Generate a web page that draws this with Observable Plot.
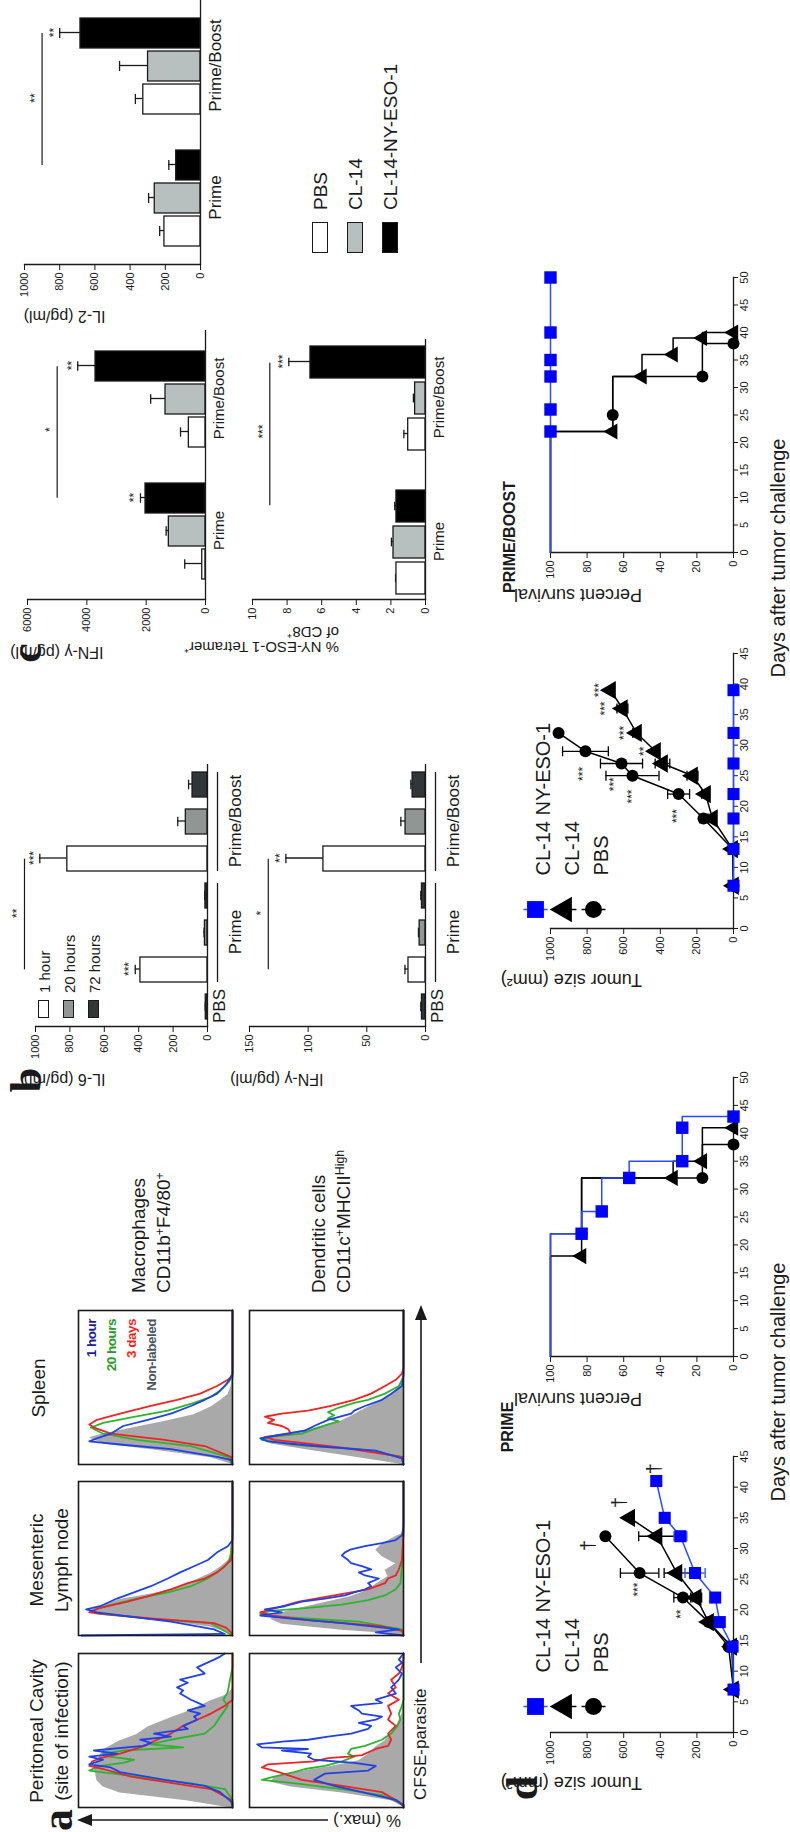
<!DOCTYPE html>
<html>
<head>
<meta charset="utf-8">
<script src="https://cdn.jsdelivr.net/npm/d3@7"></script>
<script src="https://cdn.jsdelivr.net/npm/@observablehq/plot@0.6"></script>
<style>
  html, body { margin: 0; padding: 0; background: #fff; }
  body { width: 790px; height: 1832px; overflow: hidden; position: relative; }
  #stage { position: absolute; left: 0; top: 0; width: 1832px; height: 790px;
           transform-origin: 0 0; transform: translate(0px, 1832px) rotate(-90deg);
           font-family: "Liberation Sans", Arial, Helvetica, sans-serif; color: #1a1a1a; }
  #stage svg { position: absolute; overflow: visible; max-width: none; }
  .lbl { position: absolute; white-space: nowrap; line-height: 1; transform-origin: 0 0; }
  .lbl.multi { line-height: 1.3; text-align: center; }
  .lbl.multi.left { text-align: left; }
  .lbl sup { font-size: 65%; vertical-align: 0.55em; line-height: 0; }
  .sw { position: absolute; box-sizing: border-box; border: 1.5px solid #1a1a1a; }
</style>
</head>
<body>
<div id="stage"></div>
<script>
// ===================== DATA =====================
// Panel a — CFSE histograms: [CFSE (% of axis), % of max]
const macPeritonealGray  = [[0,0],[1,5],[5,30],[10,73],[14,84],[18,88],[23,89],[27,90],[31,88],[38,84],[44,73],[48,62],[53,55],[59,40],[63,29],[70,14],[74,3],[78,0],[100,0]];
const macPeritonealGreen = [[0,0],[5,0],[12,5],[16,29],[20,62],[24,93],[27,86],[29,71],[31,64],[33,80],[35,84],[37,71],[39,32],[41,53],[44,40],[48,18],[53,12],[59,8],[66,3],[70,6],[75,3],[81,2],[91,0],[100,0]];
const macPeritonealRed   = [[0,0],[5,1],[12,14],[16,40],[20,66],[25,84],[27,93],[30,91],[32,86],[35,73],[40,57],[44,49],[48,40],[53,32],[57,23],[61,14],[66,5],[70,0],[100,0]];
const macPeritonealBlue  = [[0,0],[3,0],[10,8],[14,18],[18,44],[23,73],[26,79],[28,93],[31,84],[33,93],[35,75],[37,90],[40,58],[42,53],[44,60],[46,40],[48,51],[51,29],[53,32],[57,23],[59,25],[61,21],[63,29],[66,18],[70,27],[74,34],[76,32],[78,36],[81,29],[83,34],[87,18],[91,23],[96,12],[98,8],[100,5]];

const macMesentericGray  = [[0,0],[2,1],[6,14],[11,51],[14,88],[16,93],[19,88],[24,73],[28,51],[32,34],[37,23],[41,14],[45,8],[49,3],[54,0],[100,0]];
const macMesentericGreen = [[0,0],[8,14],[11,55],[14,86],[16,92],[19,82],[24,62],[28,42],[32,27],[37,16],[41,10],[45,5],[49,2],[54,1],[67,0],[100,0]];
const macMesentericRed   = [[0,0],[2,1],[5,4],[8,12],[11,51],[14,84],[15,93],[18,86],[22,68],[26,53],[30,40],[34,29],[37,18],[41,10],[45,5],[49,1],[54,0],[100,0]];
const macMesentericBlue  = [[0,98],[1,5],[4,12],[9,40],[13,73],[15,88],[17,95],[19,86],[24,75],[28,64],[32,53],[37,42],[41,34],[45,25],[49,16],[54,10],[58,3],[62,0],[100,0]];

const macSpleenGray  = [[0,0],[1,1],[5,14],[10,51],[14,84],[18,93],[20,86],[25,62],[29,42],[33,25],[38,14],[42,8],[46,3],[51,1],[57,0],[100,0]];
const macSpleenGreen = [[0,0],[5,3],[12,27],[16,62],[20,84],[24,92],[27,84],[31,64],[35,42],[40,25],[44,14],[48,8],[53,3],[57,0],[100,0]];
const macSpleenRed   = [[0,0],[5,1],[12,18],[16,44],[20,79],[24,90],[26,93],[29,88],[33,73],[38,53],[42,36],[46,21],[51,10],[55,3],[58,0],[100,0]];
const macSpleenBlue  = [[0,0],[3,1],[5,10],[10,40],[13,73],[15,93],[17,88],[20,79],[25,71],[29,55],[33,40],[38,27],[42,18],[46,10],[51,5],[55,2],[59,0],[100,0]];

const dcPeritonealGray  = [[0,0],[1,0],[5,8],[10,40],[14,73],[17,86],[20,84],[23,73],[27,49],[31,29],[35,23],[40,18],[44,12],[48,8],[53,5],[57,3],[61,1],[70,0],[100,0]];
const dcPeritonealGreen = [[0,0],[2,0],[8,14],[12,40],[16,73],[18,92],[20,84],[23,71],[25,64],[27,51],[30,40],[33,32],[35,36],[38,34],[40,25],[44,14],[48,8],[53,4],[57,2],[61,3],[66,1],[70,0],[100,0]];
const dcPeritonealRed   = [[0,0],[2,0],[10,14],[14,40],[18,66],[23,81],[26,92],[28,88],[30,58],[32,49],[33,36],[34,27],[38,18],[40,10],[44,8],[48,10],[53,5],[57,10],[61,8],[66,10],[70,3],[74,10],[78,5],[83,8],[87,3],[91,1],[96,0],[100,0]];
const dcPeritonealBlue  = [[0,0],[1,0],[5,5],[10,27],[14,45],[18,58],[22,51],[24,23],[27,18],[29,32],[31,58],[33,62],[35,60],[37,79],[38,62],[39,92],[41,95],[43,77],[44,62],[46,49],[48,34],[51,23],[53,21],[55,29],[57,18],[59,14],[61,27],[63,29],[66,34],[68,14],[70,18],[74,5],[78,8],[83,3],[87,1],[91,5],[94,1],[96,3],[100,0]];

const dcMesentericGray  = [[0,0],[2,10],[4,40],[8,79],[11,86],[14,84],[17,73],[22,51],[26,34],[30,23],[34,18],[39,10],[43,12],[47,5],[52,14],[56,18],[60,14],[65,5],[67,0],[100,0]];
const dcMesentericGreen = [[0,0],[4,1],[9,29],[12,79],[14,93],[16,86],[18,62],[20,40],[23,23],[26,12],[30,5],[34,2],[45,1],[67,0],[100,0]];
const dcMesentericRed   = [[0,0],[3,1],[6,14],[10,62],[13,86],[15,93],[17,86],[22,68],[26,45],[30,23],[34,12],[37,10],[39,5],[43,3],[49,1],[67,0],[100,0]];
const dcMesentericBlue  = [[0,0],[2,18],[4,3],[8,40],[11,73],[13,93],[15,79],[17,90],[19,77],[22,66],[24,51],[26,38],[28,32],[30,25],[32,21],[34,23],[37,16],[39,25],[41,29],[43,21],[45,27],[47,34],[49,36],[52,40],[54,38],[56,34],[58,25],[60,14],[62,5],[65,1],[71,0],[100,0]];

const dcSpleenGray  = [[0,0],[1,3],[5,29],[10,62],[14,86],[18,93],[20,79],[25,55],[29,40],[33,32],[38,23],[42,14],[46,8],[51,3],[55,1],[59,0],[100,0]];
const dcSpleenGreen = [[0,0],[5,1],[10,29],[13,73],[16,92],[18,86],[20,66],[23,58],[26,49],[28,42],[30,49],[32,45],[34,49],[37,42],[40,32],[42,23],[46,12],[51,3],[57,0],[100,0]];
const dcSpleenRed   = [[0,0],[5,1],[11,40],[14,66],[16,84],[18,90],[20,73],[23,75],[25,79],[27,88],[29,84],[31,90],[33,79],[35,62],[38,47],[42,32],[46,21],[51,12],[55,5],[59,1],[63,0],[100,0]];
const dcSpleenBlue  = [[0,0],[4,1],[9,18],[12,58],[15,88],[17,93],[19,82],[22,64],[25,58],[29,49],[33,34],[35,32],[38,25],[42,14],[46,8],[51,1],[59,0],[100,0]];

const histLegend = ["1 hour", "20 hours", "3 days", "Non-labeled"];

// Panel b — IL-6 and IFN-γ (pg/ml)
const bBars    = ["PBS", "Prime · 1 hour", "Prime · 20 hours", "Prime · 72 hours", "Prime/Boost · 1 hour", "Prime/Boost · 20 hours", "Prime/Boost · 72 hours"];
const bBarTime = ["72 hours", "1 hour", "20 hours", "72 hours", "1 hour", "20 hours", "72 hours"];
const bTimes   = ["1 hour", "20 hours", "72 hours"];
const il6Mean  = [10, 390, 15, 12, 815, 126, 87];
const il6Sem   = [3, 30, 5, 4, 160, 47, 23];
const il6Stars = ["", "***", "", "", "***", "", ""];
const ifnBMean = [3, 14.5, 5, 3, 87, 17, 11];
const ifnBSem  = [1, 3, 1, 1, 32, 4, 1.5];
const ifnBStars = ["", "", "", "", "**", "", ""];

// Panel c — IL-2, IFN-γ, tetramer
const cGroups     = ["Prime", "Prime/Boost"];
const cTreatments = ["PBS", "CL-14", "CL-14-NY-ESO-1"];
const il2Mean  = [205, 260, 138, 325, 298, 682];
const il2Sem   = [27, 35, 42, 45, 162, 118];
const il2Stars = ["", "", "", "", "", "**"];
const ifnCMean = [110, 1236, 2022, 562, 1348, 3707];
const ifnCSem  = [590, 90, 170, 280, 500, 600];
const ifnCStars = ["", "", "**", "", "", "**"];
const tetMean  = [1.68, 1.85, 1.68, 1.0, 0.6, 6.65];
const tetSem   = [0.05, 0.12, 0.1, 0.25, 0.1, 1.25];
const tetStars = ["", "", "", "", "", "***"];

// Panel d — tumor size [day, mean mm², sem] and survival [day, %]
const tumorSeries = ["CL-14 NY-ESO-1", "CL-14", "PBS"];
const primeTumorNY   = [[7,0,0],[14,5,0],[18,75,0],[22,100,0],[26,210,55],[32,290,35],[35,376,0],[41,422,0]];
const primeTumorCL14 = [[7,0,0],[14,10,0],[18,136,0],[22,204,30],[26,309,70],[32,418,100],[35,567,0]];
const primeTumorPBS  = [[7,0,0],[14,27,0],[18,136,0],[22,276,50],[26,513,105],[32,700,0]];
const primeTumorDeaths = [[43,430],[37.5,625],[30.5,790]];
const primeTumorStars  = [[19.3,285,"**"],[23.3,520,"***"]];

const boostTumorNY   = [[7,0,0],[13,0,0],[18,0,0],[22,0,0],[27,0,0],[32,0,0],[39,0,0]];
const boostTumorCL14 = [[7,0,0],[13,5,0],[18,115,20],[22,153,20],[25,224,30],[27,388,40],[29,426,0],[32,530,20],[36,607,30],[39,672,0]];
const boostTumorPBS  = [[7,0,0],[13,5,0],[18,164,20],[22,300,60],[25,552,145],[27,612,115],[29,809,125],[32,956,0]];
const boostTumorStars = [[18.4,310,"***"],[21.6,552,"***"],[23.6,650,"***"],[25.3,820,"***"],[29,490,"**"],[32,600,"***"],[36,700,"***"],[39,735,"***"]];

const primeSurvNY       = [[0,100],[22,83],[26,72],[32,57],[35,28],[43,0]];
const primeSurvNYMarks  = [[22,83],[26,72],[32,57],[35,28],[41,28],[43,0]];
const primeSurvCL14     = [[0,100],[18,83],[32,33],[35,17],[41,0]];
const primeSurvCL14Marks = [[18,83],[32,33],[35,17],[41,0]];
const primeSurvPBS      = [[0,100],[22,83],[32,17],[38,0]];
const primeSurvPBSMarks = [[22,83],[32,17],[38,0]];

const boostSurvNY        = [[0,100],[50,100]];
const boostSurvNYMarks   = [[22,100],[26,100],[32,100],[35,100],[40,100],[50,100]];
const boostSurvCL14      = [[0,100],[22,66],[32,50],[36,33],[39,17],[40,0]];
const boostSurvCL14Marks = [[22,66],[32,50],[36,33],[39,17],[40,0]];
const boostSurvPBS       = [[0,100],[22,66],[32,17],[38,0]];
const boostSurvPBSMarks  = [[25,66],[32,17],[38,0]];

// ===================== STYLE / HELPERS =====================
const INK = "#1a1a1a";
const FONT = '"Liberation Sans", Arial, Helvetica, sans-serif';
const SERIF = '"Liberation Serif", "Times New Roman", serif';
const HIST = {gray: "#a9a9a9", green: "#2cb52c", red: "#ef2323", blue: "#2141e8"};
const HIST_TEXT = {"1 hour": "#1c1c96", "20 hours": "#2a9a2a", "3 days": "#ff1f1f", "Non-labeled": "#4a5560"};
const TIME_FILL = {"1 hour": "#ffffff", "20 hours": "#8f9693", "72 hours": "#30363a"};
const TREAT_FILL = {"PBS": "#ffffff", "CL-14": "#b8c0bf", "CL-14-NY-ESO-1": "#000000"};
const stage = document.getElementById("stage");

function place(node, left, top) {
  node.style.left = left + "px"; node.style.top = top + "px";
  stage.appendChild(node); return node;
}
function draw(options, left, top) {
  const svg = Plot.plot({...options, style: {fontFamily: FONT, fontSize: "11px", background: "transparent", overflow: "visible", color: INK}});
  return place(svg, left, top);
}
function label(html, x, y, o = {}) {
  const d = document.createElement("div");
  d.className = "lbl" + (o.multi ? " multi" : "") + (o.anchor === "start" && o.multi ? " left" : "");
  d.innerHTML = html;
  d.style.fontSize = (o.size || 18) + "px";
  if (o.weight) d.style.fontWeight = o.weight;
  if (o.family) d.style.fontFamily = o.family;
  if (o.color) d.style.color = o.color;
  if (o.spacing) d.style.letterSpacing = o.spacing;
  const ax = o.anchor === "start" ? "0%" : o.anchor === "end" ? "-100%" : "-50%";
  d.style.transform = (o.rotate ? "rotate(-90deg) " : "") + `translate(${ax}, -50%)`;
  return place(d, x, y);
}
function swatch(x, y, w, h, fill) {
  const d = document.createElement("div");
  d.className = "sw"; d.style.width = w + "px"; d.style.height = h + "px"; d.style.background = fill;
  return place(d, x, y);
}

// ===================== ANNOTATION ARROWS =====================
const ann = d3.create("svg").attr("width", 1832).attr("height", 790);
ann.append("line").attr("x1", 12).attr("y1", 328).attr("x2", 12).attr("y2", 90).attr("stroke", INK).attr("stroke-width", 1.6);
ann.append("path").attr("d", "M12,77 L6,92 L18,92 Z").attr("fill", INK);
ann.append("line").attr("x1", 169).attr("y1", 421).attr("x2", 514).attr("y2", 421).attr("stroke", INK).attr("stroke-width", 1.6);
ann.append("path").attr("d", "M527,421 L512,415 L512,427 Z").attr("fill", INK);
place(ann.node(), 0, 0);

// ===================== PANEL a =====================
const BOX = 154;
const boxX = [24, 196, 367];
const boxY = [78, 249];
const histBoxes = [
  {col: 0, row: 0, gray: macPeritonealGray, green: macPeritonealGreen, red: macPeritonealRed, blue: macPeritonealBlue},
  {col: 1, row: 0, gray: macMesentericGray, green: macMesentericGreen, red: macMesentericRed, blue: macMesentericBlue},
  {col: 2, row: 0, gray: macSpleenGray, green: macSpleenGreen, red: macSpleenRed, blue: macSpleenBlue},
  {col: 0, row: 1, gray: dcPeritonealGray, green: dcPeritonealGreen, red: dcPeritonealRed, blue: dcPeritonealBlue},
  {col: 1, row: 1, gray: dcMesentericGray, green: dcMesentericGreen, red: dcMesentericRed, blue: dcMesentericBlue},
  {col: 2, row: 1, gray: dcSpleenGray, green: dcSpleenGreen, red: dcSpleenRed, blue: dcSpleenBlue}
];
const px = d => d[0], py = d => d[1];
for (const b of histBoxes) {
  draw({
    width: BOX, height: BOX, margin: 0,
    x: {domain: [0, 100], axis: null}, y: {domain: [0, 100], axis: null},
    marks: [
      Plot.areaY(b.gray, {x: px, y: py, fill: HIST.gray}),
      Plot.lineY(b.green, {x: px, y: py, stroke: HIST.green, strokeWidth: 1.8}),
      Plot.lineY(b.red, {x: px, y: py, stroke: HIST.red, strokeWidth: 1.8}),
      Plot.lineY(b.blue, {x: px, y: py, stroke: HIST.blue, strokeWidth: 1.8}),
      Plot.frame({stroke: INK, strokeWidth: 1.6})
    ]
  }, boxX[b.col], boxY[b.row]);
}
label("a", 12, 58, {size: 44, weight: "bold", family: SERIF});
label("Peritoneal Cavity<br>(site of infection)", 101, 50, {size: 19, multi: true});
label("Mesenteric<br>Lymph node", 272, 50, {size: 19, multi: true});
label("Spleen", 444, 38, {size: 19});
label("Macrophages<br>CD11b<sup>+</sup>F4/80<sup>+</sup>", 539, 152, {size: 19, multi: true, anchor: "start"});
label("Dendritic cells<br>CD11c<sup>+</sup>MHCII<sup>High</sup>", 539, 332, {size: 19, multi: true, anchor: "start"});
histLegend.forEach((t, i) => label(t, 513, 92 + 20 * i, {size: 13.5, weight: "bold", anchor: "end", color: HIST_TEXT[t], spacing: "-0.5px"}));
label("% (max.)", 12, 367, {size: 17, rotate: true});
label("CFSE-parasite", 32, 420, {size: 17, anchor: "start"});

// ===================== BAR CHART BUILDER =====================
function barChart(c) {
  const n = c.keys.length;
  const range = c.width - c.mL - c.mR;
  const step = range / (n - c.pi + 2 * c.po);
  const bw = step * (1 - c.pi);
  const cap = (bw - 10) / 2;
  const rows = c.keys.map((k, i) => ({key: k, fill: c.fills[i], value: c.values[i], err: c.errors[i], stars: c.stars[i]}))
    .filter(d => d.value != null);
  const withErr = rows.filter(d => d.err > 0);
  const marks = [
    Plot.ruleX(withErr, {x: "key", y1: "value", y2: d => d.value + d.err, stroke: INK, strokeWidth: 1.3}),
    Plot.tickY(withErr, {x: "key", y: d => d.value + d.err, insetLeft: cap, insetRight: cap, stroke: INK, strokeWidth: 1.3}),
    Plot.barY(rows, {x: "key", y: "value", fill: "fill", stroke: INK, strokeWidth: 1.3}),
    Plot.ruleY([0], {stroke: INK, strokeWidth: 1.3}),
    Plot.frame({anchor: "left", stroke: INK, strokeWidth: 1.3}),
    Plot.axisY({ticks: c.yTicks, tickFormat: "d", tickSize: 5, tickPadding: 3, fontSize: 11, label: null}),
    Plot.text(rows.filter(d => d.stars), {x: "key", y: d => d.value + d.err, text: "stars", dy: -6, fontSize: 12}),
    Plot.text([c.title], {frameAnchor: "left", rotate: -90, dx: -c.titleOffset, dy: c.titleShift || 0, fontSize: c.titleSize, lineAnchor: "middle"})
  ];
  for (const g of c.groups) {
    marks.push(Plot.text([g], {x: "mid", text: "label", frameAnchor: "bottom", lineAnchor: "top", dy: g.labelDy, fontSize: c.groupSize}));
    if (g.line) marks.push(Plot.ruleY([g], {x1: "first", x2: "last", y: 0, dy: g.lineDy, stroke: INK, strokeWidth: 1.3}));
  }
  for (const s of c.sig) {
    const span = (c.keys.indexOf(s.to) - c.keys.indexOf(s.from)) * step;
    marks.push(Plot.ruleY([s], {x1: "from", x2: "to", y: "y", insetLeft: bw / 2, insetRight: bw / 2, stroke: INK, strokeWidth: 1.2}));
    marks.push(Plot.text([s], {x: "from", y: "y", text: "label", dx: span / 2, dy: -7, fontSize: 12}));
  }
  return draw({
    width: c.width, height: c.height, marginLeft: c.mL, marginRight: c.mR, marginTop: c.mT, marginBottom: c.mB,
    x: {type: "band", domain: c.keys, paddingInner: c.pi, paddingOuter: c.po, axis: null},
    y: {domain: [0, c.yMax], axis: null},
    color: {type: "identity"},
    marks
  }, c.left, c.top);
}

// ===================== PANEL b =====================
const bFills = bBarTime.map(t => TIME_FILL[t]);
const bGroupDefs = [
  {label: "PBS", first: bBars[0], mid: bBars[0], last: bBars[0], line: false, labelDy: 5},
  {label: "Prime", first: bBars[1], mid: bBars[2], last: bBars[3], line: true, labelDy: 21, lineDy: 10},
  {label: "Prime/Boost", first: bBars[4], mid: bBars[5], last: bBars[6], line: true, labelDy: 21, lineDy: 10}
];
const bLayout = {keys: bBars, fills: bFills, left: 700, width: 380, mL: 105, mR: 12, pi: 0.32, po: 0.2, groups: bGroupDefs, groupSize: 17, titleSize: 16, titleOffset: 53};
barChart({...bLayout, top: 0, height: 260, mT: 35, mB: 53, values: il6Mean, errors: il6Sem, stars: il6Stars,
  yMax: 1000, yTicks: [0, 200, 400, 600, 800, 1000], title: "IL-6 (pg/ml)", titleShift: -16,
  sig: [{from: bBars[1], to: bBars[4], y: 1064, label: "**"}]});
barChart({...bLayout, top: 220, height: 260, mT: 29, mB: 55, values: ifnBMean, errors: ifnBSem, stars: ifnBStars,
  yMax: 150, yTicks: [0, 50, 100, 150], title: "IFN-γ (pg/ml)", titleShift: -14,
  sig: [{from: bBars[1], to: bBars[4], y: 134, label: "*"}]});
label("b", 752, 27, {size: 44, weight: "bold", family: SERIF});
bTimes.forEach((t, i) => {
  swatch(814, 38 + 25 * i, 18, 11, TIME_FILL[t]);
  label(t, 839, 44 + 25 * i, {size: 15, anchor: "start"});
});

// ===================== PANEL c =====================
const cKeys = cGroups.flatMap((g, gi) => (gi ? [" "] : []).concat(cTreatments.map(t => g + " · " + t)));
const gap = arr => [arr[0], arr[1], arr[2], null, arr[3], arr[4], arr[5]];
const cFills = gap([...cTreatments, ...cTreatments].map(t => TREAT_FILL[t]));
const cGroupDefs = cGroups.map(g => ({label: g, mid: g + " · " + cTreatments[1], line: false, labelDy: 8}));
const nyPrime = "Prime · CL-14-NY-ESO-1", nyBoost = "Prime/Boost · CL-14-NY-ESO-1";
const cLayout = {keys: cKeys, fills: cFills, pi: 0.1, groups: cGroupDefs};
barChart({...cLayout, left: 1460, top: 0, width: 372, height: 250, mL: 107, mR: 0, mT: 24, mB: 50, po: 0.54,
  values: gap(il2Mean), errors: gap(il2Sem), stars: gap(il2Stars), groupSize: 17,
  yMax: 1000, yTicks: [0, 200, 400, 600, 800, 1000], title: "IL-2 (pg/ml)", titleSize: 16, titleOffset: 52, titleShift: -7,
  sig: [{from: nyPrime, to: nyBoost, y: 900, label: "**"}]});
barChart({...cLayout, left: 1130, top: 0, width: 392, height: 250, mL: 102, mR: 20, mT: 27, mB: 45, po: 0.53,
  values: gap(ifnCMean), errors: gap(ifnCSem), stars: gap(ifnCStars), groupSize: 15,
  yMax: 6000, yTicks: [0, 2000, 4000, 6000], title: "IFN-γ (pg/ml)", titleSize: 16, titleOffset: 53, titleShift: -13,
  sig: [{from: nyPrime, to: nyBoost, y: 5000, label: "*"}]});
barChart({...cLayout, left: 1130, top: 230, width: 392, height: 240, mL: 102, mR: 29, mT: 22, mB: 45, po: 0.08,
  values: gap(tetMean), errors: gap(tetSem), stars: gap(tetStars), groupSize: 15,
  yMax: 10, yTicks: [0, 2, 4, 6, 8, 10], title: "% NY-ESO-1 Tetramer⁺\nof CD8⁺", titleSize: 15, titleOffset: 40,
  sig: [{from: nyPrime, to: nyBoost, y: 9, label: "***"}]});
label("c", 1179, 27, {size: 44, weight: "bold", family: SERIF});
cTreatments.forEach((t, i) => {
  swatch(1579, 312 + 35 * i, 31, 16, TREAT_FILL[t]);
  label(t, 1622, 320 + 35 * i, {size: 19, anchor: "start"});
});

// ===================== PANEL d =====================
const capSymbol = {draw(ctx, size) { const r = Math.sqrt(size / Math.PI); ctx.moveTo(-r, 0); ctx.lineTo(r, 0); }};
const barSymbol = {draw(ctx, size) { const r = Math.sqrt(size / Math.PI); ctx.moveTo(0, -r); ctx.lineTo(0, r); }};
const STYLE = {
  "CL-14 NY-ESO-1": {color: "#0000ff", lineColor: "#2a4dff", symbol: "square"},
  "CL-14": {color: "#000000", lineColor: "#000000", symbol: "triangle"},
  "PBS": {color: "#000000", lineColor: "#000000", symbol: "circle"}
};

function xyChart(c) {
  const marks = [
    Plot.frame({anchor: "left", stroke: INK, strokeWidth: 1.3}),
    Plot.frame({anchor: "bottom", stroke: INK, strokeWidth: 1.3}),
    Plot.axisX({ticks: c.xTicks, tickFormat: "d", tickSize: 5, tickPadding: 2, fontSize: 11, label: null}),
    Plot.axisY({ticks: c.yTicks, tickFormat: "d", tickSize: 5, tickPadding: 3, fontSize: 11, label: null}),
    Plot.text([c.title], {frameAnchor: "left", rotate: -90, dx: -c.titleOffset, fontSize: 18, lineAnchor: "middle"})
  ];
  for (const s of c.series) {
    const st = STYLE[s.name];
    marks.push(Plot.line(s.line, {x: px, y: py, stroke: st.lineColor, strokeWidth: 1.5, curve: c.curve}));
    const e = s.line.filter(d => d[2] > 0);
    if (e.length) {
      marks.push(Plot.ruleX(e, {x: px, y1: d => d[1] - d[2], y2: d => d[1] + d[2], stroke: st.lineColor, strokeWidth: 1.3}));
      marks.push(Plot.dot(e, {x: px, y: d => d[1] + d[2], symbol: capSymbol, r: 5, fill: "none", stroke: st.lineColor, strokeWidth: 1.3}));
      marks.push(Plot.dot(e, {x: px, y: d => d[1] - d[2], symbol: capSymbol, r: 5, fill: "none", stroke: st.lineColor, strokeWidth: 1.3}));
    }
    marks.push(Plot.dot(s.marks || s.line, {x: px, y: py, symbol: st.symbol, r: s.r || c.r[st.symbol], fill: st.color, stroke: "none"}));
  }
  if (c.stars) marks.push(Plot.text(c.stars, {x: px, y: py, text: d => d[2], fontSize: 12}));
  if (c.deaths) marks.push(Plot.text(c.deaths, {x: px, y: py, text: () => "†", fontSize: 20}));
  if (c.legend) {
    tumorSeries.forEach((name, i) => {
      const st = STYLE[name], dy = c.legend.dy + c.legend.gap * i;
      marks.push(Plot.dot([name], {frameAnchor: "top-left", dx: c.legend.dx, dy, symbol: barSymbol, r: 12, fill: "none", stroke: st.lineColor, strokeWidth: 1.5}));
      marks.push(Plot.dot([name], {frameAnchor: "top-left", dx: c.legend.dx, dy, symbol: st.symbol, r: st.symbol === "circle" ? 8.5 : 9.5, fill: st.color, stroke: "none"}));
      marks.push(Plot.text([name], {frameAnchor: "top-left", dx: c.legend.textDx, dy, textAnchor: "start", fontSize: 20}));
    });
  }
  return draw({
    width: c.width, height: c.height, marginLeft: c.mL, marginRight: c.mR, marginTop: c.mT, marginBottom: c.mB,
    x: {domain: [0, c.xMax], axis: null}, y: {domain: [0, c.yMax], axis: null},
    marks
  }, c.left, c.top);
}

const tumorTicksX = [0, 5, 10, 15, 20, 25, 30, 35, 40, 45];
const survTicksX = [0, 5, 10, 15, 20, 25, 30, 35, 40, 45, 50];
const tumorTicksY = [0, 200, 400, 600, 800, 1000];
const survTicksY = [0, 20, 40, 60, 80, 100];
const tumorR = {square: 6.8, triangle: 6.8, circle: 6};
const survR = {square: 7, triangle: 6, circle: 6};

xyChart({left: 0, top: 520, width: 400, height: 270, mL: 99, mR: 25, mT: 30, mB: 57,
  xMax: 45, xTicks: tumorTicksX, yMax: 1000, yTicks: tumorTicksY, title: "Tumor size (mm²)", titleOffset: 50, curve: "linear", r: tumorR,
  series: [{name: "PBS", line: primeTumorPBS}, {name: "CL-14", line: primeTumorCL14}, {name: "CL-14 NY-ESO-1", line: primeTumorNY}],
  stars: primeTumorStars, deaths: primeTumorDeaths, legend: {dx: 26, textDx: 60, dy: -15, gap: 29}});
xyChart({left: 380, top: 520, width: 400, height: 270, mL: 95, mR: 26, mT: 30, mB: 57,
  xMax: 50, xTicks: survTicksX, yMax: 100, yTicks: survTicksY, title: "Percent survival", titleOffset: 42, curve: "step-after", r: survR,
  series: [{name: "PBS", line: primeSurvPBS, marks: primeSurvPBSMarks}, {name: "CL-14", line: primeSurvCL14, marks: primeSurvCL14Marks}, {name: "CL-14 NY-ESO-1", line: primeSurvNY, marks: primeSurvNYMarks}]});
xyChart({left: 800, top: 520, width: 400, height: 270, mL: 103, mR: 22, mT: 30, mB: 57,
  xMax: 45, xTicks: tumorTicksX, yMax: 1000, yTicks: tumorTicksY, title: "Tumor size (mm²)", titleOffset: 51, curve: "linear", r: tumorR,
  series: [{name: "PBS", line: boostTumorPBS}, {name: "CL-14", line: boostTumorCL14}, {name: "CL-14 NY-ESO-1", line: boostTumorNY}],
  stars: boostTumorStars, legend: {dx: 19, textDx: 53, dy: -15, gap: 29}});
xyChart({left: 1180, top: 520, width: 400, height: 270, mL: 99, mR: 26, mT: 30, mB: 57,
  xMax: 50, xTicks: survTicksX, yMax: 100, yTicks: survTicksY, title: "Percent survival", titleOffset: 42, curve: "step-after", r: survR,
  series: [{name: "PBS", line: boostSurvPBS, marks: boostSurvPBSMarks}, {name: "CL-14", line: boostSurvCL14, marks: boostSurvCL14Marks}, {name: "CL-14 NY-ESO-1", line: boostSurvNY, marks: boostSurvNYMarks}]});

label("d", 44, 523, {size: 44, weight: "bold", family: SERIF});
label("PRIME", 405, 508, {size: 16, weight: "bold"});
label("PRIME/BOOST", 1295, 510, {size: 16, weight: "bold"});
label("Days after tumor challenge", 450, 778, {size: 20});
label("Days after tumor challenge", 1274, 778, {size: 20});
</script>
</body>
</html>
